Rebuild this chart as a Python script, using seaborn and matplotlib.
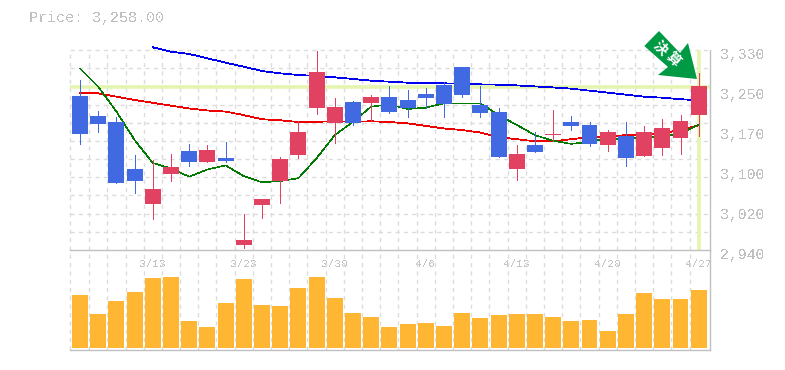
import numpy as np
import pandas as pd
import matplotlib
matplotlib.use("Agg")
import matplotlib.pyplot as plt
from matplotlib.patches import Polygon
from matplotlib.transforms import ScaledTranslation
import seaborn as sns

W, H = 785, 370
MONO = "Liberation Mono"
GREY = "#c0c0c0"

# ---- data ----
highs = [3271.5,3211,3199.4,3125.2,3115.5,3127.2,3146.7,3144.8,3150.6,3010.2,3039.5,3121.4,
         3191.6,3328,3236.4,3230.6,3242.2,3259.8,3252,3255.9,3267.6,3296.9,3259.8,3216.9,
         3144.8,3170.1,3213,3201.3,3189.6,3174,3189.6,3181.8,3195.4,3203.2,3285.2]
tops = [3240.3,3201.3,3189.6,3098,3059,3101.9,3133,3135,3119.4,2959.5,3039.5,3117.4,
        3170.1,3287.1,3218.8,3228.6,3238.4,3238.4,3232.5,3244.2,3261.8,3296.9,3222.8,3209.1,
        3127.2,3144.8,3166.2,3189.6,3183.8,3170.1,3162.3,3170.1,3177.9,3191.6,3259.8]
bottoms = [3166.2,3185.7,3070.6,3074.5,3029.7,3088.2,3111.6,3111.6,3113.5,2949.8,3027.8,3074.6,
           3125.2,3216.9,3187.6,3187.6,3226.6,3209.1,3216.9,3236.4,3224.7,3242.2,3207.2,3121.4,
           3098,3131.1,3164.2,3181.8,3146.7,3144.8,3119.4,3123.3,3139.5,3158.4,3203.2]
lows = [3146.7,3170.1,3070.6,3051,3000.5,3074.5,3103.8,3111.6,3111.6,2943.9,3002.4,3031.6,
        3119.4,3205.2,3148.6,3183.8,3191.6,3207.2,3199.4,3216.9,3199.4,3238.4,3199.4,3121.4,
        3076.5,3131.1,3152.6,3174,3142.8,3133,3103.8,3123.3,3125.2,3127.2,3162.3]
up = [0,0,0,0,1,1,0,1,0,1,1,1,
      1,1,1,0,1,0,0,0,0,0,0,0,
      1,0,1,0,0,1,0,1,1,1,1]
ma_green = [3294,3258.5,3210,3154.5,3109.6,3099,3083,3097,3105,3084,3072,3074.5,
            3080,3119,3164,3190,3219.5,3224,3215,3217.5,3226,3226,3226,3203,
            3184,3164,3153,3147,3151,3158,3156,3160,3161,3167.5,3184]
ma_red = [3245.5,3245.5,3239,3232.5,3227,3221.5,3216,3212,3210,3203,3195,3193,
          3189.6,3190,3191,3190,3191,3189.6,3187,3182,3177,3174,3169,3160,
          3156,3152,3152,3156,3160,3161,3164,3164,3167.5,3174,3183]
ma_blue = [np.nan,np.nan,np.nan,np.nan,3335.2,3326.8,3322.2,3313.8,3305.3,3297.5,3289,3284.5,
           3281.2,3279.3,3276.7,3273.5,3270.2,3268.2,3266.3,3266.3,3265,3264.4,3263,3262.4,
           3261,3259,3257,3254.6,3250.7,3246.8,3243,3239,3237,3234,3232]
volumes = [53,34,47,56,70,71,27,21,45,69,43,42,60,71,50,35,31,21,
           24,25,22,35,30,33,34,34,31,27,28,17,34,55,49,49,58]
date_pos = [4, 9, 14, 19, 24, 29, 34]
date_labels = ["3/13","3/23","3/30","4/6","4/13","4/20","4/27"]
price_ticks = [3330, 3252, 3174, 3096, 3018, 2940]
price_labels = ["3,330","3,250","3,170","3,100","3,020","2,940"]
last_price = 3258

idx = np.arange(len(volumes))
df = pd.DataFrame(dict(i=idx, vol=volumes, g=ma_green, r=ma_red, b=ma_blue))

sns.set_theme(style="white")
plt.rcParams["text.antialiased"] = False
plt.rcParams["font.family"] = [MONO, "Noto Sans CJK JP", "DejaVu Sans"]

fig = plt.figure(figsize=(W/100, H/100), dpi=100, facecolor="white")
def axpx(l, t, r, b):
    return fig.add_axes([l/W, 1-b/H, (r-l)/W, (b-t)/H], facecolor="none")
ax = axpx(70, 50, 710, 250)
vx = axpx(70, 250, 710, 350)
XLIM = (-0.55, 34.62)

BLUE, RED = "#4169e1", "#e24262"
colors = [RED if u else BLUE for u in up]
tops_a, bots_a = np.array(tops), np.array(bottoms)

# reference levels
ax.axhline(last_price, color="#e4f5b0", lw=2.6, zorder=1.5)
ax.axvline(34, color="#e4f5b0", lw=2.6, zorder=1.5)

# moving averages under the candles
for col, c, lw in [("b", "#0000ee", 0.55), ("r", "#ee0000", 0.55), ("g", "#007a00", 0.4)]:
    sns.lineplot(data=df, x="i", y=col, ax=ax, color=c, lw=lw, zorder=2, errorbar=None)
    ax.lines[-1].set_clip_on(False)
    ax.lines[-1].set_antialiased(False)

# candles
ax.vlines(idx, lows, highs, colors=colors, lw=0.6, zorder=3, antialiased=False)
ax.bar(idx, np.maximum(tops_a-bots_a, 1.5), bottom=bots_a, width=0.875, color=colors, lw=0, zorder=3)

ax.set_xlim(*XLIM)
ax.set_ylim(2940, 3330)
ax.set_xlabel(""); ax.set_ylabel("")

# volume
sns.barplot(data=df, x="i", y="vol", ax=vx, native_scale=True, color="#ffb733", saturation=1,
            width=0.875, zorder=3, linewidth=0)
vx.set_xlim(*XLIM)
vx.set_ylim(-1.7, 98.3)
vx.set_xlabel(""); vx.set_ylabel("")
vx.set_yticks([])

# grids
grid = dict(color="#dcdcdc", lw=1.0, ls=(0, (3, 3)))
for a in (ax, vx):
    a.set_xticks(idx[1:]-0.5, minor=True)
    a.grid(True, which="minor", axis="x", zorder=0, **grid)
    a.tick_params(which="both", length=0)
    a.set_axisbelow(True)
    for s in a.spines.values():
        s.set_visible(False)
    a.axvline(XLIM[0], clip_on=False, zorder=0, **grid)
ax.set_yticks(np.linspace(2940, 3330, 12)[1:], minor=True)
ax.grid(True, which="minor", axis="y", zorder=0, **grid)
ax.axhline(3330, clip_on=False, zorder=0, **grid)

# frame
for a, sides in ((ax, ("right", "bottom")), (vx, ("right", "bottom"))):
    for s in sides:
        a.spines[s].set_visible(True)
        a.spines[s].set_color(GREY)
        a.spines[s].set_linewidth(1.0)

# labels
ax.set_xticks([])
ax.yaxis.tick_right()
ax.set_yticks(price_ticks)
ax.set_yticklabels(price_labels, fontsize=10.7, color=GREY, family=MONO)
ax.tick_params(axis="y", which="major", pad=7, length=0)
off = ScaledTranslation(0, -0.03, fig.dpi_scale_trans)
for t in ax.get_yticklabels():
    t.set_transform(t.get_transform() + off)

vx.xaxis.tick_top()
vx.set_xticks(date_pos)
vx.set_xticklabels(date_labels, fontsize=8, color="#c4c4c4", family=MONO)
vx.tick_params(axis="x", which="major", pad=-14, length=0)
for t in vx.get_xticklabels():
    t.set_clip_on(True)
    t.set_clip_box(vx.bbox)

fig.text(29/W, 1-18/H, f"Price: {last_price:,.2f}", fontsize=10.85, color=GREY, family=MONO,
         ha="left", va="center")

# arrow marker
pts = [(659,31),(680,53),(688,43),(697,79),(658,75),(668,67),(644.3,46)]
fig.add_artist(Polygon([(x/W, 1-y/H) for x, y in pts], closed=True, transform=fig.transFigure,
                       facecolor="#009944", edgecolor="none", zorder=10))
for ch, (x, y) in zip("決算", [(660,48),(673,59.5)]):
    fig.text(x/W, 1-y/H, ch, color="white", fontsize=10, rotation=-45, ha="center", va="center",
             rotation_mode="anchor", family=["Noto Sans CJK JP"], weight="bold", zorder=11, antialiased=True)

fig.savefig("out.png", dpi=100, facecolor="white")
